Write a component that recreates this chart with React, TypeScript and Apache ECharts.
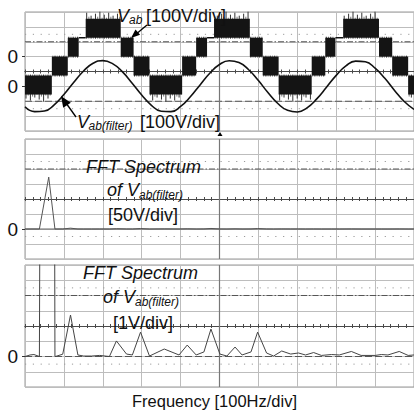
import { useEffect, useRef } from "react";
import * as echarts from "echarts";

const FONT = "'Liberation Sans', Arial, Helvetica, sans-serif";

// ---------- Panel 1: time domain (x in divisions, 10 across; y in volts, 100 V/div) ----------
const timeDiv = [
  0, 0.25, 0.5, 0.75, 1, 1.25, 1.5, 1.75, 2, 2.25, 2.5, 2.75, 3, 3.25, 3.5, 3.75, 4, 4.25, 4.5, 4.75,
  5, 5.25, 5.5, 5.75, 6, 6.25, 6.5, 6.75, 7, 7.25, 7.5, 7.75, 8, 8.25, 8.5, 8.75, 9, 9.25, 9.5, 9.75, 10,
];
const vabFilterVolts = [
  -137, -170, -166, -124, -55, 26, 102, 155, 173, 153, 99, 23, -58, -127, -167, -170, -135, -70, 10, 88,
  147, 172, 160, 112, 39, -43, -115, -161, -172, -144, -84, -6, 74, 138, 170, 165, 122, 54, -27, -102, -155,
];
// V_ab multilevel PWM: segment edges (div) and the two levels it switches between (V)
const vabEdgesDiv = [
  0, 0.69, 1.1, 1.38, 1.56, 2.46, 2.79, 3.2, 4.04, 4.4, 4.68, 4.86, 5.78, 6.11, 6.52, 7.37, 7.72, 7.98,
  8.18, 9.1, 9.44, 9.85, 10,
];
const vabLowVolts = [
  -255, -127, 0, 127, 127, 0, -127, -255, -127, 0, 127, 127, 0, -127, -255, -127, 0, 127, 127, 0, -127, -255,
];
const vabHighVolts = [
  -127, 0, 127, 127, 255, 127, 0, -127, 0, 127, 127, 255, 127, 0, -127, 0, 127, 127, 255, 127, 0, -127,
];
const vabZeroVolts = 100; // V_ab ground marker ("0") at +1 div
const filterZeroVolts = -100; // V_ab(filter) ground marker ("0") at -1 div

// ---------- Panels 2 & 3: FFT of V_ab(filter) (x in Hz, 100 Hz/div) ----------
const fftFreqHz = [
  0, 13, 23, 37, 61, 77, 82, 97, 117, 136, 151, 171, 192, 217, 235, 261, 276, 297, 320, 358, 396, 417,
  440, 460, 478, 501, 519, 540, 558, 581, 598, 621, 639, 660, 683, 703, 721, 742, 762, 788, 808, 839,
  864, 900, 916, 933, 962, 985, 1000,
];
const fftAmpVolts = [
  0, 0.1, 0.13, 0, 173, 0, 0.03, 0.15, 2.72, 0.1, 0.03, 0.03, 0.07, 0, 1.02, 0.16, 0.1, 1.6, 0.03, 0.49,
  0.1, 0.75, 0.1, 0.3, 1.8, 0.16, 0.03, 0.62, 0.1, 0.3, 1.6, 0.23, 0.03, 0.36, 0.16, 0.23, 0.1, 0.26,
  0.07, 0.13, 0.1, 0.33, 0.07, 0.07, 0.13, 0.1, 0.33, 0.07, 0.1,
];

const GRID_C = "#bdbdbd";
const DARK = "#4a4a4a";

const panels = [
  { top: 12, height: 119, xMax: 10, xStep: 1, yMin: -400, yMax: 400, yStep: 100, zeros: [vabZeroVolts, filterZeroVolts], lower: "dashed" },
  { top: 139, height: 120, xMax: 1000, xStep: 100, yMin: -100, yMax: 300, yStep: 50, zeros: [0], lower: "solid" },
  { top: 265, height: 122, xMax: 1000, xStep: 100, yMin: -2, yMax: 6, yStep: 1, zeros: [0], lower: "dashed" },
];

const spikePattern = [4, 1, 6, 2, 3, 0, 5, 2, 7, 1];

function buildOption() {
  const grid = panels.map((p) => ({
    left: 25, right: -2, top: p.top, height: p.height, show: true,
    borderColor: "#999", borderWidth: 1, backgroundColor: "transparent",
  }));

  const xAxis = panels.flatMap((p, i) => {
    const common = {
      gridIndex: i, type: "value", min: 0, max: p.xMax, interval: p.xStep,
      axisLabel: { show: false },
      axisLine: { show: true, onZero: true, onZeroAxisIndex: 2 * i + 1, lineStyle: { color: DARK, width: 1 } },
      axisTick: { show: true, length: 2, lineStyle: { color: DARK } },
      minorTick: { show: true, splitNumber: 5, length: 2, lineStyle: { color: DARK } },
    };
    return [
      { ...common, position: "bottom", splitLine: { show: true, lineStyle: { color: GRID_C, width: 1 } } },
      { ...common, position: "top", splitLine: { show: false } },
    ];
  });

  const yAxis = panels.flatMap((p, i) => [
    {
      gridIndex: i, type: "value", position: "left", min: p.yMin, max: p.yMax, interval: p.yStep,
      axisLine: { show: false, onZero: false }, splitLine: { show: false },
      axisTick: { show: true, customValues: p.zeros, length: 3, lineStyle: { color: "#333" } },
      axisLabel: {
        show: true, customValues: p.zeros, formatter: (v: number) => (p.zeros.includes(v) ? "0" : ""),
        margin: 7, color: "#111", fontSize: 19, fontFamily: FONT,
      },
    },
    {
      gridIndex: i, type: "value", position: "left", min: -4, max: 4, interval: 1,
      axisLine: { show: false, onZero: false }, axisTick: { show: false }, axisLabel: { show: false },
      splitLine: { show: true, lineStyle: { color: GRID_C, width: 1 } },
    },
  ]);

  const refLine = (i: number, pts: number[][], color: string, type: any, width = 1) => ({
    type: "line", xAxisIndex: 2 * i, yAxisIndex: 2 * i + 1, data: pts, symbol: "none", silent: true,
    animation: false, z: 1, lineStyle: { color, type, width },
  });

  const refSeries = panels.flatMap((p, i) => [
    refLine(i, [[0, 2.5], [p.xMax, 2.5]], "#9a9a9a", [1.2, 6.62]),
    refLine(i, [[0, -2.5], [p.xMax, -2.5]], "#9a9a9a", [1.2, 6.62]),
    refLine(i, [[0, 2], [p.xMax, 2]], "#555", [6, 2, 1.5, 2]),
    refLine(i, [[0, -2], [p.xMax, -2]], p.lower === "solid" ? "#666" : "#555", p.lower === "solid" ? "solid" : [7, 3]),
    refLine(i, [[p.xMax / 2, -4], [p.xMax / 2, 4]], "#777", "solid", 1.2),
  ]);

  const vabData = vabLowVolts.map((lo, k) => [
    vabEdgesDiv[k], vabEdgesDiv[k + 1], lo + vabZeroVolts, vabHighVolts[k] + vabZeroVolts, lo, vabHighVolts[k],
  ]);

  const vabSeries = {
    type: "custom", xAxisIndex: 0, yAxisIndex: 0, z: 4, silent: true,
    encode: { x: [0, 1], y: [2, 3] },
    data: vabData,
    renderItem: (params: any, api: any) => {
      const x0 = api.value(0), x1 = api.value(1), lo = api.value(2), hi = api.value(3);
      const rawLo = api.value(4), rawHi = api.value(5);
      const a = api.coord([x0, hi]);
      const b = api.coord([x1, lo]);
      const children: any[] = [];
      if (rawHi === rawLo) {
        children.push({ type: "line", shape: { x1: a[0], y1: a[1], x2: b[0], y2: a[1] }, style: { stroke: "#111", lineWidth: 1.5 } });
      } else {
        let k = params.dataIndex * 3;
        for (let x = a[0] + 1; x < b[0] - 0.5; x += 2.2, k++) {
          const ext = spikePattern[k % spikePattern.length];
          children.push({
            type: "line",
            shape: { x1: x, y1: a[1] - (rawHi === 255 ? ext : 1), x2: x, y2: b[1] + (rawLo === -255 ? ext : 1) },
            style: { stroke: k % 2 ? "#777" : "#333", lineWidth: 1 },
          });
        }
        children.push({
          type: "rect", shape: { x: a[0], y: a[1], width: b[0] - a[0], height: b[1] - a[1] },
          style: { fill: "#141414" },
        });
      }
      return { type: "group", children };
    },
  };

  const filterSeries = {
    type: "line", xAxisIndex: 0, yAxisIndex: 0, z: 5, symbol: "none", smooth: true, silent: true,
    data: timeDiv.map((t, k) => [t, vabFilterVolts[k] + filterZeroVolts]),
    lineStyle: { color: "#111", width: 1.6 },
  };

  const fftPts = fftFreqHz.map((f, k) => [f, fftAmpVolts[k]]);
  const fft2 = {
    type: "line", xAxisIndex: 2, yAxisIndex: 2, z: 5, symbol: "none", silent: true, data: fftPts,
    lineStyle: { color: "#555", width: 1 },
  };
  const fft3 = {
    type: "line", xAxisIndex: 4, yAxisIndex: 4, z: 5, symbol: "none", silent: true, data: fftPts,
    lineStyle: { color: "#444", width: 1 },
  };

  const txt = (x: number, y: number, text: string, size: number, italic: boolean, align = "left") => ({
    type: "text", x, y, silent: true, z: 20,
    style: {
      text, fill: "#111", fontSize: size, fontFamily: FONT, fontStyle: italic ? "italic" : "normal",
      align, verticalAlign: "middle", textAlign: align, textVerticalAlign: "middle",
    },
  });

  const graphic = [
    txt(117, 15.5, "V", 18, true),
    txt(129, 20, "ab", 12, true),
    txt(146, 15.5, "[100V/div]", 18, false),
    txt(77, 121.5, "V", 18, true),
    txt(88.5, 126, "ab(filter)", 12, true),
    txt(140, 121.5, "[100V/div]", 18, false),
    txt(86, 167, "FFT Spectrum", 18, true),
    txt(107, 190, "of V", 18, true),
    txt(139, 195, "ab(filter)", 12, true),
    txt(108, 215, "[50V/div]", 18, false),
    txt(83, 273, "FFT Spectrum", 18, true),
    txt(103, 297, "of V", 18, true),
    txt(135, 302, "ab(filter)", 12, true),
    txt(113, 323, "[1V/div]", 18, false),
    txt(214.5, 401, "Frequency [100Hz/div]", 16.5, false, "center"),
    { type: "line", z: 20, shape: { x1: 147, y1: 25, x2: 135, y2: 35 }, style: { stroke: "#000", lineWidth: 1.3 } },
    { type: "polygon", z: 20, shape: { points: [[131, 38], [140.1, 34.7], [135.5, 29.5]] }, style: { fill: "#000" } },
    { type: "line", z: 20, shape: { x1: 76, y1: 117, x2: 66, y2: 103 }, style: { stroke: "#000", lineWidth: 1.3 } },
    { type: "polygon", z: 20, shape: { points: [[61, 96], [70.8, 102.7], [63.2, 107.7]] }, style: { fill: "#000" } },
    { type: "polygon", z: 20, shape: { points: [[217.5, 136], [222.5, 136], [220, 132]] }, style: { fill: "#000" } },
  ];

  return {
    animation: false,
    backgroundColor: "#fff",
    textStyle: { fontFamily: FONT },
    grid, xAxis, yAxis,
    series: [...refSeries, vabSeries, filterSeries, fft2, fft3],
    graphic,
  };
}

export default function App() {
  const ref = useRef<HTMLDivElement>(null);
  useEffect(() => {
    document.body.style.margin = "0";
    const chart = echarts.init(ref.current!, null, { renderer: "svg" });
    chart.setOption(buildOption() as any);
    return () => chart.dispose();
  }, []);
  return <div ref={ref} style={{ position: "absolute", left: 0, top: 0, width: 414, height: 412 }} />;
}
